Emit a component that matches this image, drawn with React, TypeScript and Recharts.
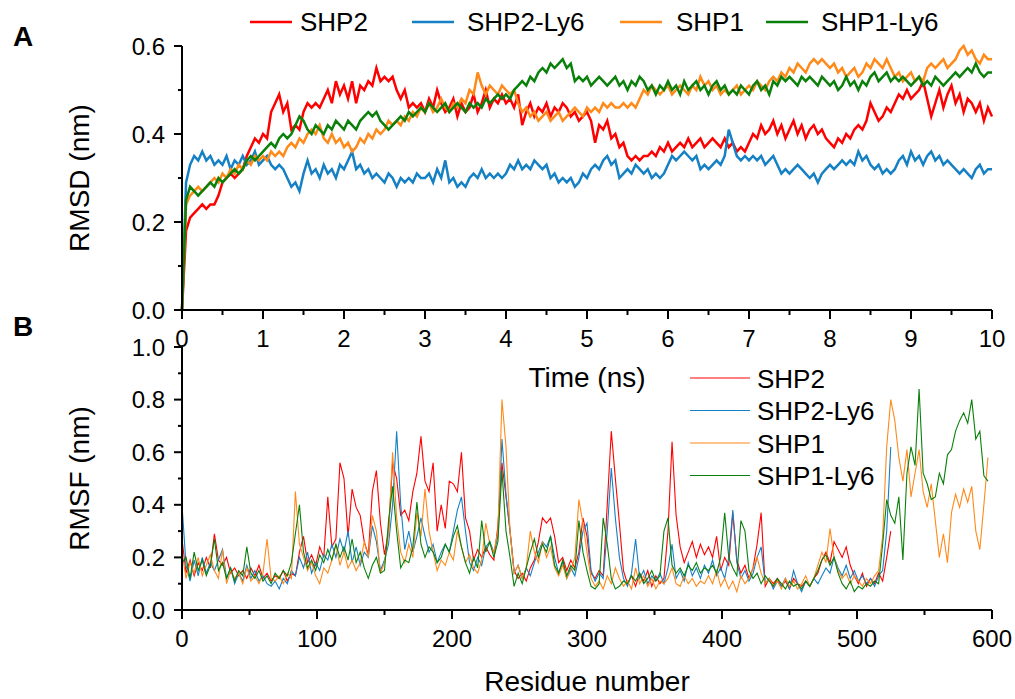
import { LineChart, Line, XAxis, YAxis } from "recharts";

// RMSD, sampled every 0.05 ns from 0 to 10 ns
const TIME_STEP = 0.05;

const SHP2_RMSD = [
  0.0, 0.18, 0.21, 0.22, 0.23, 0.24, 0.23, 0.24, 0.24, 0.26, 0.29, 0.3, 0.31, 0.3, 0.31, 0.32, 0.35, 0.37, 0.39, 0.38,
  0.4, 0.39, 0.45, 0.47, 0.49, 0.45, 0.47, 0.41, 0.42, 0.41, 0.45, 0.47, 0.46, 0.47, 0.46, 0.48, 0.5, 0.47, 0.52, 0.49,
  0.51, 0.48, 0.52, 0.47, 0.51, 0.5, 0.52, 0.51, 0.55, 0.52, 0.53, 0.52, 0.53, 0.5, 0.48, 0.5, 0.46, 0.47, 0.46, 0.47,
  0.45, 0.48, 0.46, 0.5, 0.47, 0.45, 0.46, 0.48, 0.44, 0.47, 0.45, 0.46, 0.49, 0.45, 0.47, 0.5, 0.46, 0.48, 0.47, 0.49,
  0.47, 0.48, 0.46, 0.49, 0.42, 0.45, 0.47, 0.44, 0.46, 0.45, 0.47, 0.44, 0.46, 0.45, 0.47, 0.46, 0.44, 0.45, 0.43, 0.44,
  0.45, 0.43, 0.38, 0.42, 0.41, 0.43, 0.39, 0.4, 0.37, 0.38, 0.35, 0.34, 0.35, 0.34, 0.35, 0.35, 0.36, 0.35, 0.37, 0.36,
  0.38, 0.36, 0.37, 0.38, 0.37, 0.39, 0.37, 0.38, 0.39, 0.37, 0.38, 0.39, 0.38, 0.37, 0.39, 0.37, 0.38, 0.36, 0.37, 0.36,
  0.38, 0.4, 0.39, 0.42, 0.4, 0.41, 0.43, 0.4, 0.42, 0.39, 0.41, 0.43, 0.4, 0.42, 0.39, 0.41, 0.42, 0.4, 0.41, 0.39,
  0.38, 0.37, 0.39, 0.38, 0.4, 0.39, 0.41, 0.42, 0.41, 0.43, 0.47, 0.45, 0.43, 0.44, 0.46, 0.45, 0.47, 0.49, 0.48, 0.5,
  0.48, 0.49, 0.5, 0.52, 0.48, 0.44, 0.47, 0.5, 0.46, 0.49, 0.51, 0.47, 0.49, 0.45, 0.48, 0.47, 0.45, 0.47, 0.43, 0.46,
  0.44,
];

const SHP2_LY6_RMSD = [
  0.0, 0.29, 0.33, 0.35, 0.34, 0.36, 0.34, 0.35, 0.33, 0.34, 0.33, 0.35, 0.32, 0.34, 0.33, 0.35, 0.33, 0.34, 0.36, 0.33,
  0.34, 0.35, 0.33, 0.32, 0.33, 0.32, 0.3, 0.28, 0.29, 0.27, 0.31, 0.34, 0.31, 0.32, 0.3, 0.33, 0.31, 0.32, 0.3, 0.33,
  0.32, 0.34, 0.36, 0.32, 0.33, 0.31, 0.32, 0.3, 0.31, 0.3, 0.29, 0.31, 0.3, 0.28, 0.3, 0.29, 0.3, 0.29, 0.31, 0.3,
  0.3, 0.31, 0.29, 0.32, 0.3, 0.34, 0.29, 0.3, 0.28, 0.29, 0.28, 0.3, 0.31, 0.3, 0.32, 0.3, 0.31, 0.3, 0.31, 0.3,
  0.31, 0.33, 0.32, 0.34, 0.32, 0.33, 0.32, 0.34, 0.33, 0.32, 0.33, 0.3, 0.31, 0.29, 0.3, 0.29, 0.3, 0.28, 0.29, 0.31,
  0.3, 0.32, 0.33, 0.32, 0.34, 0.35, 0.33, 0.34, 0.3, 0.31, 0.32, 0.31, 0.33, 0.32, 0.31, 0.32, 0.3, 0.31, 0.3, 0.31,
  0.33, 0.35, 0.34, 0.35, 0.36, 0.35, 0.34, 0.35, 0.32, 0.33, 0.32, 0.33, 0.34, 0.33, 0.35, 0.41, 0.38, 0.35, 0.34, 0.35,
  0.34, 0.35, 0.34, 0.35, 0.33, 0.34, 0.35, 0.33, 0.31, 0.32, 0.31, 0.32, 0.33, 0.32, 0.31, 0.3, 0.31, 0.29, 0.31, 0.32,
  0.33, 0.32, 0.33, 0.34, 0.33, 0.34, 0.33, 0.36, 0.34, 0.35, 0.33, 0.32, 0.33, 0.31, 0.32, 0.31, 0.32, 0.34, 0.35, 0.33,
  0.36, 0.34, 0.35, 0.33, 0.35, 0.36, 0.34, 0.35, 0.33, 0.34, 0.33, 0.32, 0.31, 0.32, 0.31, 0.3, 0.32, 0.33, 0.31, 0.32,
  0.32,
];

const SHP1_RMSD = [
  0.0, 0.24, 0.26, 0.27, 0.28, 0.27, 0.28, 0.29, 0.3, 0.29, 0.31, 0.3, 0.32, 0.31, 0.33, 0.32, 0.34, 0.33, 0.35, 0.34,
  0.35, 0.34, 0.36, 0.35, 0.36, 0.35, 0.37, 0.38, 0.37, 0.39, 0.38, 0.4, 0.41, 0.4, 0.42, 0.39, 0.38, 0.4, 0.38, 0.39,
  0.37, 0.38, 0.36, 0.37, 0.39, 0.38, 0.4, 0.39, 0.41, 0.4, 0.41, 0.43, 0.42, 0.43, 0.42, 0.44, 0.43, 0.45, 0.44, 0.46,
  0.45, 0.47, 0.45, 0.46, 0.48, 0.46, 0.45, 0.47, 0.46, 0.48, 0.47, 0.5, 0.49, 0.54, 0.51, 0.49, 0.51, 0.5, 0.49, 0.51,
  0.5, 0.49, 0.5, 0.47, 0.45, 0.46, 0.44, 0.45, 0.43, 0.44, 0.45, 0.43, 0.44, 0.45, 0.43, 0.44, 0.45, 0.46, 0.45, 0.44,
  0.46, 0.45, 0.46, 0.45, 0.47, 0.46, 0.47, 0.46, 0.46, 0.47, 0.46, 0.47, 0.46, 0.48, 0.5, 0.49, 0.51, 0.5, 0.49, 0.5,
  0.51, 0.49, 0.5, 0.51, 0.5, 0.49, 0.51, 0.5, 0.53, 0.51, 0.52, 0.5, 0.51, 0.49, 0.5, 0.49, 0.5, 0.51, 0.49, 0.5,
  0.51, 0.5, 0.52, 0.51, 0.5, 0.52, 0.53, 0.52, 0.54, 0.53, 0.55, 0.54, 0.56, 0.55, 0.54, 0.56, 0.57, 0.56, 0.57, 0.56,
  0.55, 0.56, 0.54, 0.55, 0.53, 0.54, 0.55, 0.53, 0.54, 0.56, 0.55, 0.57, 0.56, 0.55, 0.57, 0.55, 0.53, 0.54, 0.52, 0.53,
  0.54, 0.52, 0.53, 0.52, 0.55, 0.56, 0.55, 0.56, 0.57, 0.55, 0.56, 0.57, 0.59, 0.6, 0.58, 0.59, 0.57, 0.56, 0.58, 0.57,
  0.57,
];

const SHP1_LY6_RMSD = [
  0.0, 0.25, 0.28, 0.27, 0.26, 0.27, 0.28, 0.29, 0.28, 0.3, 0.29, 0.3, 0.31, 0.32, 0.31, 0.32, 0.34, 0.35, 0.34, 0.35,
  0.36, 0.37, 0.38, 0.37, 0.39, 0.4, 0.39, 0.4, 0.42, 0.44, 0.43, 0.41, 0.4, 0.42, 0.41, 0.4, 0.42, 0.41, 0.43, 0.42,
  0.41, 0.43, 0.42, 0.41, 0.43, 0.44, 0.45, 0.44, 0.45, 0.43, 0.42, 0.41, 0.42, 0.43, 0.44, 0.43, 0.45, 0.44, 0.45, 0.46,
  0.45, 0.47, 0.46, 0.45, 0.46, 0.47, 0.45, 0.46, 0.47, 0.46, 0.45, 0.47, 0.46, 0.47, 0.46, 0.48, 0.47, 0.48, 0.49, 0.48,
  0.49, 0.48, 0.5, 0.51, 0.52, 0.51, 0.53, 0.52, 0.54, 0.55, 0.54, 0.56, 0.55, 0.56, 0.57, 0.55, 0.56, 0.52, 0.53, 0.52,
  0.53, 0.51, 0.52, 0.53, 0.52, 0.51, 0.52, 0.53, 0.51, 0.52, 0.5, 0.52, 0.51, 0.53, 0.52, 0.5, 0.51, 0.49, 0.51, 0.5,
  0.52, 0.5, 0.51, 0.49, 0.52, 0.5, 0.51, 0.52, 0.5, 0.51, 0.49, 0.51, 0.52, 0.5, 0.51, 0.49, 0.5, 0.49, 0.51, 0.5,
  0.49, 0.51, 0.52, 0.5, 0.51, 0.49, 0.52, 0.51, 0.53, 0.52, 0.53, 0.52, 0.51, 0.53, 0.52, 0.53, 0.52, 0.51, 0.53, 0.52,
  0.51, 0.52, 0.5, 0.51, 0.53, 0.51, 0.52, 0.5, 0.52, 0.51, 0.53, 0.54, 0.52, 0.53, 0.54, 0.52, 0.53, 0.52, 0.53, 0.52,
  0.51, 0.52, 0.53, 0.51, 0.52, 0.51, 0.53, 0.52, 0.51, 0.52, 0.53, 0.54, 0.53, 0.54, 0.55, 0.54, 0.56, 0.54, 0.53, 0.54,
  0.54,
];

// RMSF, sampled every 3 residues
const RESIDUE_STEP = 3;

const SHP2_RMSF = [
  0.27, 0.14, 0.19, 0.13, 0.18, 0.15, 0.2, 0.16, 0.29, 0.19,
  0.17, 0.2, 0.14, 0.16, 0.13, 0.15, 0.12, 0.16, 0.13, 0.17,
  0.12, 0.14, 0.11, 0.13, 0.12, 0.15, 0.11, 0.14, 0.13, 0.22,
  0.28, 0.18, 0.21, 0.17, 0.24, 0.2, 0.43, 0.24, 0.27, 0.56,
  0.5, 0.28, 0.46, 0.39, 0.36, 0.26, 0.21, 0.45, 0.53, 0.33,
  0.21, 0.3, 0.56, 0.5, 0.36, 0.38, 0.34, 0.45, 0.52, 0.66,
  0.49, 0.45, 0.56, 0.3, 0.4, 0.31, 0.49, 0.48, 0.45, 0.6,
  0.35, 0.3, 0.19, 0.23, 0.2, 0.24, 0.21, 0.19, 0.32, 0.56,
  0.43, 0.3, 0.15, 0.12, 0.14, 0.11, 0.16, 0.19, 0.26, 0.35,
  0.33, 0.35, 0.28, 0.18, 0.2, 0.15, 0.19, 0.16, 0.22, 0.35,
  0.28, 0.14, 0.12, 0.15, 0.13, 0.4, 0.68, 0.5, 0.33, 0.15,
  0.1, 0.13, 0.09, 0.14, 0.11, 0.15, 0.09, 0.13, 0.1, 0.12,
  0.3, 0.64, 0.36, 0.24, 0.18, 0.22, 0.26, 0.2, 0.25, 0.21,
  0.24, 0.2, 0.28, 0.15, 0.2, 0.17, 0.37, 0.19, 0.14, 0.17,
  0.12, 0.16, 0.25, 0.37, 0.09, 0.12, 0.1, 0.12, 0.09, 0.11,
  0.08, 0.12, 0.1, 0.09, 0.11, 0.09, 0.12, 0.14, 0.19, 0.22,
  0.18, 0.26, 0.23, 0.2, 0.24, 0.17, 0.13, 0.1, 0.14, 0.09,
  0.12, 0.1, 0.14, 0.11, 0.2, 0.3,
];

const SHP2_LY6_RMSF = [
  0.4, 0.17, 0.11, 0.19, 0.13, 0.2, 0.14, 0.18, 0.15, 0.19,
  0.23, 0.12, 0.16, 0.1, 0.14, 0.11, 0.17, 0.12, 0.15, 0.11,
  0.13, 0.1, 0.09, 0.11, 0.08, 0.12, 0.1, 0.15, 0.13, 0.2,
  0.16, 0.22, 0.14, 0.18, 0.15, 0.21, 0.19, 0.25, 0.2, 0.27,
  0.22, 0.3, 0.18, 0.24, 0.17, 0.22, 0.2, 0.32, 0.26, 0.15,
  0.19, 0.25, 0.4, 0.68, 0.4, 0.23, 0.3, 0.22, 0.28, 0.35,
  0.28, 0.22, 0.25, 0.18, 0.22, 0.25, 0.22, 0.3, 0.38, 0.43,
  0.3, 0.18, 0.15, 0.2, 0.17, 0.24, 0.26, 0.22, 0.28, 0.65,
  0.44, 0.3, 0.14, 0.17, 0.12, 0.16, 0.13, 0.18, 0.22, 0.26,
  0.24, 0.28, 0.2, 0.14, 0.18, 0.12, 0.16, 0.13, 0.2, 0.3,
  0.33, 0.15, 0.11, 0.14, 0.12, 0.3, 0.54, 0.35, 0.2, 0.12,
  0.09, 0.14, 0.27, 0.12, 0.15, 0.1, 0.13, 0.11, 0.14, 0.1,
  0.16, 0.25, 0.12, 0.15, 0.11, 0.18, 0.13, 0.16, 0.12, 0.17,
  0.14, 0.19, 0.13, 0.16, 0.12, 0.2, 0.38, 0.18, 0.12, 0.15,
  0.11, 0.14, 0.2, 0.24, 0.1, 0.12, 0.08, 0.11, 0.09, 0.12,
  0.08, 0.15, 0.1, 0.07, 0.11, 0.09, 0.12, 0.1, 0.13, 0.16,
  0.14, 0.2, 0.16, 0.13, 0.17, 0.12, 0.15, 0.11, 0.13, 0.1,
  0.12, 0.09, 0.13, 0.15, 0.3, 0.62,
];

const SHP1_RMSF = [
  0.22, 0.12, 0.18, 0.14, 0.2, 0.13, 0.17, 0.21, 0.15, 0.12,
  0.23, 0.1, 0.15, 0.12, 0.14, 0.1, 0.16, 0.11, 0.13, 0.1,
  0.14, 0.27, 0.12, 0.11, 0.13, 0.1, 0.14, 0.12, 0.45, 0.25,
  0.2, 0.15, 0.18, 0.13, 0.1, 0.16, 0.14, 0.19, 0.25, 0.17,
  0.22, 0.16, 0.19, 0.15, 0.18, 0.26, 0.2, 0.36, 0.3, 0.14,
  0.18, 0.29, 0.6, 0.35, 0.22, 0.18, 0.25, 0.2, 0.37, 0.28,
  0.46, 0.3, 0.22, 0.15, 0.19, 0.17, 0.22, 0.19, 0.3, 0.24,
  0.18, 0.21, 0.16, 0.14, 0.19, 0.33, 0.25, 0.22, 0.3, 0.8,
  0.62, 0.3, 0.14, 0.17, 0.12, 0.16, 0.3, 0.22, 0.18, 0.26,
  0.2, 0.24, 0.16, 0.13, 0.17, 0.12, 0.15, 0.2, 0.42, 0.33,
  0.22, 0.12, 0.09, 0.11, 0.08, 0.13, 0.1, 0.16, 0.12, 0.09,
  0.11, 0.08, 0.16, 0.1, 0.13, 0.09, 0.12, 0.08, 0.11, 0.1,
  0.12, 0.16, 0.1, 0.09, 0.13, 0.1, 0.12, 0.09, 0.11, 0.1,
  0.13, 0.1, 0.15, 0.09, 0.12, 0.08, 0.11, 0.07, 0.13, 0.1,
  0.12, 0.16, 0.2, 0.14, 0.1, 0.12, 0.09, 0.11, 0.08, 0.12,
  0.09, 0.11, 0.08, 0.1, 0.13, 0.09, 0.12, 0.17, 0.22, 0.18,
  0.31, 0.2, 0.15, 0.12, 0.14, 0.1, 0.13, 0.11, 0.09, 0.12,
  0.1, 0.13, 0.15, 0.28, 0.62, 0.8, 0.72, 0.58, 0.49, 0.61,
  0.43, 0.52, 0.61, 0.45, 0.39, 0.48, 0.34, 0.2, 0.29, 0.18,
  0.37, 0.44, 0.39, 0.46, 0.41, 0.47, 0.3, 0.23, 0.4, 0.58,
];

const SHP1_LY6_RMSF = [
  0.18, 0.2, 0.12, 0.22, 0.15, 0.19, 0.13, 0.17, 0.27, 0.15,
  0.18, 0.12, 0.16, 0.11, 0.15, 0.13, 0.24, 0.14, 0.12, 0.15,
  0.11, 0.13, 0.1, 0.14, 0.12, 0.15, 0.13, 0.18, 0.29, 0.4,
  0.22, 0.16, 0.19, 0.15, 0.21, 0.18, 0.23, 0.19, 0.25, 0.2,
  0.24, 0.19, 0.27, 0.18, 0.22, 0.16, 0.12, 0.17, 0.2, 0.14,
  0.15, 0.34, 0.47, 0.3, 0.16, 0.19, 0.18, 0.24, 0.41, 0.25,
  0.2, 0.24, 0.22, 0.18, 0.2, 0.25, 0.22, 0.28, 0.32, 0.24,
  0.18, 0.14, 0.2, 0.16, 0.34, 0.22, 0.26, 0.2, 0.26, 0.53,
  0.3, 0.2, 0.09, 0.14, 0.1, 0.16, 0.22, 0.27, 0.2, 0.25,
  0.22, 0.28, 0.17, 0.14, 0.19, 0.13, 0.17, 0.15, 0.34, 0.22,
  0.15, 0.09, 0.08, 0.1, 0.35, 0.25, 0.12, 0.08, 0.09, 0.11,
  0.1, 0.13, 0.11, 0.14, 0.1, 0.12, 0.15, 0.11, 0.13, 0.3,
  0.35, 0.17, 0.14, 0.16, 0.13, 0.17, 0.15, 0.18, 0.14, 0.16,
  0.15, 0.17, 0.14, 0.2, 0.37, 0.2, 0.16, 0.13, 0.34, 0.3,
  0.15, 0.12, 0.14, 0.1, 0.13, 0.11, 0.09, 0.12, 0.1, 0.08,
  0.11, 0.09, 0.1, 0.08, 0.11, 0.09, 0.12, 0.15, 0.19, 0.21,
  0.17, 0.2, 0.14, 0.1, 0.08, 0.11, 0.07, 0.09, 0.08, 0.1,
  0.09, 0.11, 0.1, 0.25, 0.42, 0.36, 0.33, 0.43, 0.19, 0.52,
  0.62, 0.55, 0.84, 0.52, 0.48, 0.42, 0.43, 0.52, 0.48, 0.59,
  0.61, 0.68, 0.72, 0.75, 0.71, 0.8, 0.65, 0.68, 0.51, 0.49,
];

const RMSD_TICKS = [0, 0.1, 0.2, 0.3, 0.4, 0.5, 0.6];
const TIME_TICKS = [0, 0.5, 1, 1.5, 2, 2.5, 3, 3.5, 4, 4.5, 5, 5.5, 6, 6.5, 7, 7.5, 8, 8.5, 9, 9.5, 10];
const RMSF_TICKS = [0, 0.1, 0.2, 0.3, 0.4, 0.5, 0.6, 0.7, 0.8, 0.9, 1.0];
const RESIDUE_TICKS = [0, 50, 100, 150, 200, 250, 300, 350, 400, 450, 500, 550, 600];

const SERIES = [
  { key: "shp2", name: "SHP2", color: "#ff0000" },
  { key: "shp2ly6", name: "SHP2-Ly6", color: "#1580c4" },
  { key: "shp1", name: "SHP1", color: "#ff8a1a" },
  { key: "shp1ly6", name: "SHP1-Ly6", color: "#0a800a" },
];

const rmsdData = SHP2_RMSD.map((v, i) => ({
  t: i * TIME_STEP,
  shp2: v,
  shp2ly6: SHP2_LY6_RMSD[i],
  shp1: SHP1_RMSD[i],
  shp1ly6: SHP1_LY6_RMSD[i],
}));

const rmsfData = SHP1_RMSF.map((v, i) => ({
  residue: i * RESIDUE_STEP,
  shp2: SHP2_RMSF[i],
  shp2ly6: SHP2_LY6_RMSF[i],
  shp1: v,
  shp1ly6: SHP1_LY6_RMSF[i],
}));

const W = 1015;
const H = 699;
const TICK_FONT = 24;
const AXIS_STROKE = { stroke: "#000", strokeWidth: 2 };

// ticks: long with label on majors, short on minors
function leftTick(isMajor: (v: number) => boolean) {
  return (props: any) => {
    const { x, y, payload } = props;
    const v = payload.value as number;
    const major = isMajor(v);
    return (
      <g>
        <line x1={x} x2={x - (major ? 8 : 4)} y1={y} y2={y} stroke="#000" strokeWidth={2} />
        {major && (
          <text x={x - 17} y={y} dy="0.36em" textAnchor="end" fontSize={TICK_FONT} fill="#000">
            {v.toFixed(1)}
          </text>
        )}
      </g>
    );
  };
}

function bottomTick(isMajor: (v: number) => boolean) {
  return (props: any) => {
    const { x, y, payload } = props;
    const v = payload.value as number;
    const major = isMajor(v);
    return (
      <g>
        <line x1={x} x2={x} y1={y} y2={y + (major ? 9 : 5)} stroke="#000" strokeWidth={2} />
        {major && (
          <text x={x} y={y + 37} textAnchor="middle" fontSize={TICK_FONT} fill="#000">
            {String(v)}
          </text>
        )}
      </g>
    );
  };
}

const evenTenth = (v: number) => Math.round(v * 10) % 2 === 0;

const TOP_LEGEND = [
  { lx: 250, tx: 300 },
  { lx: 412, tx: 467 },
  { lx: 620, tx: 676 },
  { lx: 766, tx: 821 },
];

export default function App() {
  return (
    <div
      style={{
        position: "absolute",
        left: 0,
        top: 0,
        width: W,
        height: H,
        background: "#fff",
        fontFamily: '"Liberation Sans", Arial, sans-serif',
      }}
    >
      {/* B: RMSF */}
      <div style={{ position: "absolute", left: 0, top: 0 }}>
        <LineChart width={W} height={H} data={rmsfData} margin={{ top: 347, right: 23, bottom: 0, left: 0 }}>
          <XAxis
            dataKey="residue"
            type="number"
            domain={[0, 600]}
            ticks={RESIDUE_TICKS}
            interval={0}
            height={89}
            tickSize={0}
            tickMargin={0}
            tickLine={false}
            axisLine={AXIS_STROKE}
            tick={bottomTick((v) => v % 100 === 0)}
            label={{ value: "Residue number", position: "insideBottom", offset: 8, fontSize: 28, fill: "#000" }}
          />
          <YAxis
            type="number"
            domain={[0, 1]}
            ticks={RMSF_TICKS}
            interval={0}
            width={182}
            tickSize={0}
            tickMargin={0}
            tickLine={false}
            axisLine={AXIS_STROKE}
            tick={leftTick(evenTenth)}
            label={{
              value: "RMSF (nm)",
              angle: -90,
              position: "insideLeft",
              offset: 79,
              fontSize: 28,
              fill: "#000",
              style: { textAnchor: "middle" },
            }}
          />
          {SERIES.map((s) => (
            <Line
              key={s.key}
              dataKey={s.key}
              type="linear"
              stroke={s.color}
              strokeWidth={1.1}
              dot={false}
              isAnimationActive={false}
            />
          ))}
        </LineChart>
      </div>

      {/* A: RMSD */}
      <div style={{ position: "absolute", left: 0, top: 0 }}>
        <LineChart width={W} height={400} data={rmsdData} margin={{ top: 46, right: 23, bottom: 0, left: 0 }}>
          <XAxis
            dataKey="t"
            type="number"
            domain={[0, 10]}
            ticks={TIME_TICKS}
            interval={0}
            height={90}
            tickSize={0}
            tickMargin={0}
            tickLine={false}
            axisLine={AXIS_STROKE}
            tick={bottomTick((v) => Number.isInteger(v))}
            label={{ value: "Time (ns)", position: "insideBottom", offset: 13, fontSize: 28, fill: "#000" }}
          />
          <YAxis
            type="number"
            domain={[0, 0.6]}
            ticks={RMSD_TICKS}
            interval={0}
            width={182}
            tickSize={0}
            tickMargin={0}
            tickLine={false}
            axisLine={AXIS_STROKE}
            tick={leftTick(evenTenth)}
            label={{
              value: "RMSD (nm)",
              angle: -90,
              position: "insideLeft",
              offset: 79,
              fontSize: 28,
              fill: "#000",
              style: { textAnchor: "middle" },
            }}
          />
          {SERIES.map((s) => (
            <Line
              key={s.key}
              dataKey={s.key}
              type="linear"
              stroke={s.color}
              strokeWidth={2.5}
              dot={false}
              isAnimationActive={false}
            />
          ))}
        </LineChart>
      </div>

      {/* panel letters and legends */}
      <svg width={W} height={H} style={{ position: "absolute", left: 0, top: 0, pointerEvents: "none" }}>
        <text x={13} y={46} fontSize={28} fontWeight="bold" fill="#000">A</text>
        <text x={13} y={336} fontSize={28} fontWeight="bold" fill="#000">B</text>
        {SERIES.map((s, i) => (
          <g key={s.key}>
            <line x1={TOP_LEGEND[i].lx} x2={TOP_LEGEND[i].lx + 42} y1={22} y2={22} stroke={s.color} strokeWidth={2.5} />
            <text x={TOP_LEGEND[i].tx} y={31} fontSize={26} fill="#000">{s.name}</text>
          </g>
        ))}
        {SERIES.map((s, i) => (
          <g key={s.key}>
            <line x1={690} x2={750} y1={378 + i * 32.5} y2={378 + i * 32.5} stroke={s.color} strokeWidth={1.2} />
            <text x={757} y={378 + i * 32.5 + 9.5} fontSize={26} fill="#000">{s.name}</text>
          </g>
        ))}
      </svg>
    </div>
  );
}
